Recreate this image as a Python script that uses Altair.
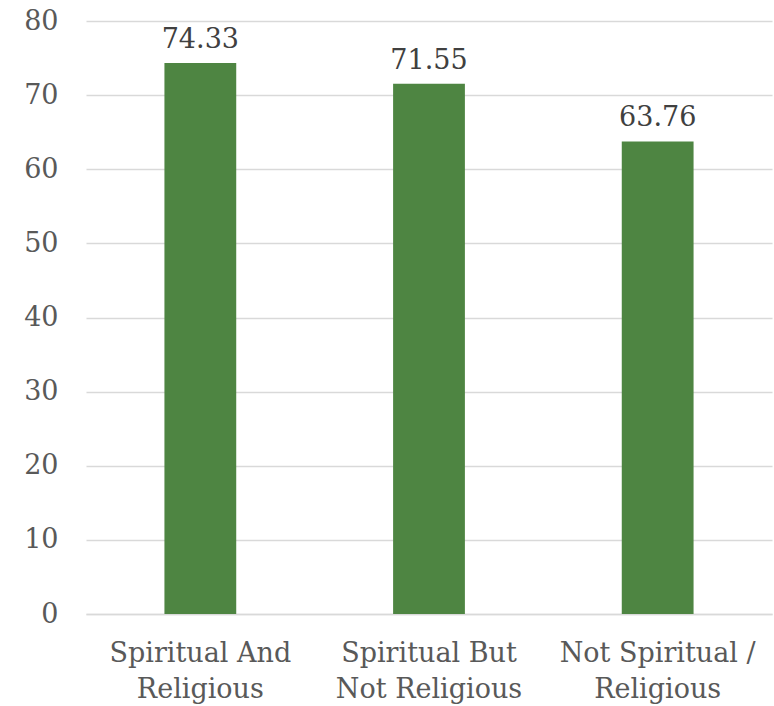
import altair as alt
import pandas as pd

categories = ["Spiritual And\nReligious", "Spiritual But\nNot Religious", "Not Spiritual /\nReligious"]
values = [74.33, 71.55, 63.76]
y_ticks = [0, 10, 20, 30, 40, 50, 60, 70, 80]

df = pd.DataFrame({"category": categories, "value": values})
df["label"] = df["value"].map(lambda v: f"{v:.2f}")

FONT = "DejaVu Serif"
GREY = "#595959"

base = alt.Chart(df).encode(
    x=alt.X(
        "category:N",
        sort=categories,
        title=None,
        scale=alt.Scale(paddingInner=0.686, paddingOuter=0.343),
        axis=alt.Axis(
            labelAngle=0,
            labelExpr="split(datum.label, '\\n')",
            labelFont=FONT,
            labelFontSize=27,
            labelColor=GREY,
            labelLineHeight=36,
            labelPadding=26,
            labelLimit=0,
            ticks=False,
            domain=True,
            domainColor="#d9d9d9",
            domainWidth=1.5,
            grid=False,
        ),
    ),
    y=alt.Y(
        "value:Q",
        title=None,
        scale=alt.Scale(domain=[0, 80], nice=False),
        axis=alt.Axis(
            values=y_ticks,
            labelFont=FONT,
            labelFontSize=27,
            labelColor=GREY,
            labelPadding=28,
            ticks=False,
            domain=False,
            gridColor="#d9d9d9",
            gridWidth=1.5,
        ),
    ),
)

bars = base.mark_bar(color="#4e8542")
text = base.mark_text(
    baseline="bottom", dy=-9, font=FONT, fontSize=27, color="#404040"
).encode(text="label:N")

chart = (
    (bars + text)
    .properties(
        width=686,
        height=593,
        padding={"left": 86, "top": 21, "right": 2, "bottom": 92},
        autosize=alt.AutoSizeParams(type="none"),
    )
    .configure_view(stroke=None)
)

chart.save("out.html", embed_options={"renderer": "svg", "actions": False})
